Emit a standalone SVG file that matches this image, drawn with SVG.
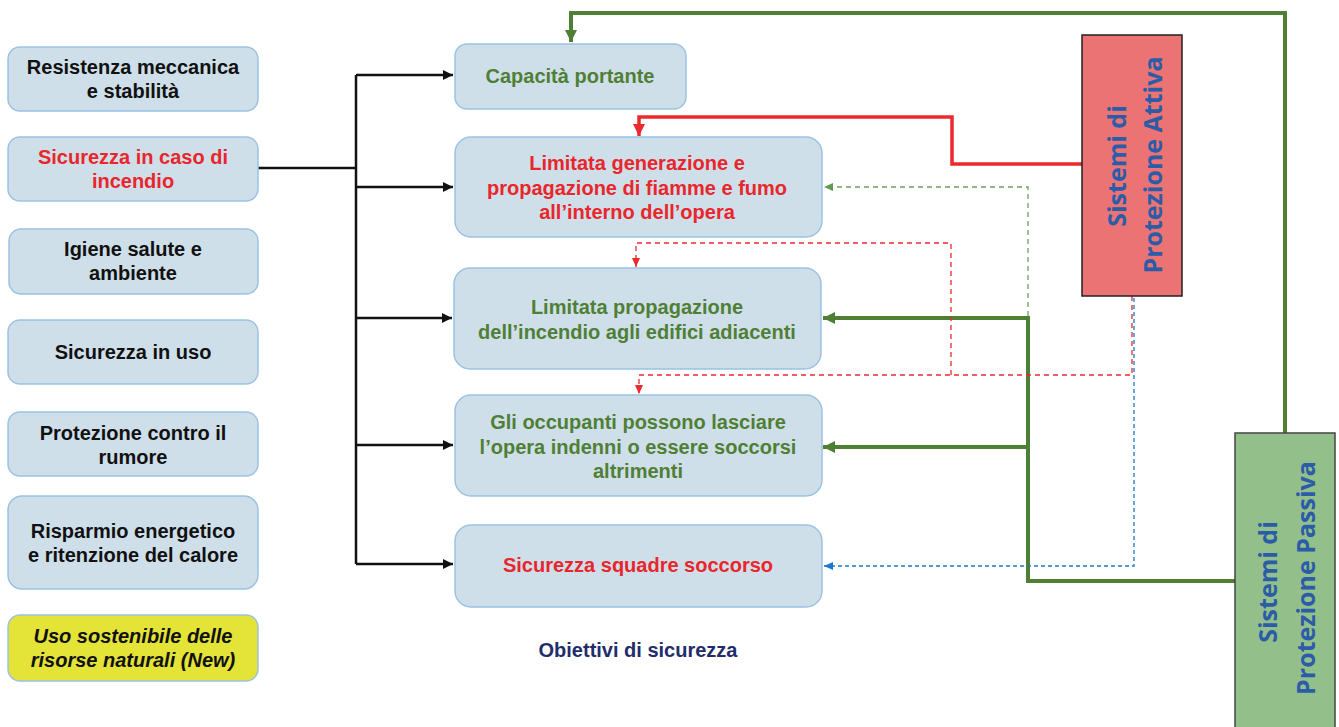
<svg xmlns="http://www.w3.org/2000/svg" width="1339" height="727" viewBox="0 0 1339 727">
<style>
.box{fill:#cfdfea;stroke:#9cc2e3;stroke-width:1.5}
.t{font-family:"Liberation Sans",Arial,sans-serif;font-weight:bold;font-size:20px;text-anchor:middle}
.k{fill:#111}
.r{fill:#e8262b}
.g{fill:#4f7f35}
.v{font-family:"Open Sans","Noto Sans",sans-serif;font-weight:bold;font-size:25px;text-anchor:middle;fill:#2b5ca8}
</style>
<defs>
<marker id="ak" markerUnits="userSpaceOnUse" markerWidth="12" markerHeight="10" refX="10" refY="5" orient="auto"><path d="M0,0 L10,5 L0,10 z" fill="#111"/></marker>
<marker id="ag" markerUnits="userSpaceOnUse" markerWidth="14" markerHeight="12" refX="12" refY="6" orient="auto"><path d="M0,0 L12,6 L0,12 z" fill="#4f7f35"/></marker>
<marker id="ar" markerUnits="userSpaceOnUse" markerWidth="14" markerHeight="12" refX="12" refY="6" orient="auto"><path d="M0,0 L12,6 L0,12 z" fill="#ec2a2e"/></marker>
<marker id="agd" markerUnits="userSpaceOnUse" markerWidth="10" markerHeight="8" refX="9" refY="4" orient="auto"><path d="M0,0 L9,4 L0,8 z" fill="#5f9a50"/></marker>
<marker id="ard" markerUnits="userSpaceOnUse" markerWidth="10" markerHeight="8" refX="9" refY="4" orient="auto"><path d="M0,0 L9,4 L0,8 z" fill="#ec2a2e"/></marker>
<marker id="abd" markerUnits="userSpaceOnUse" markerWidth="10" markerHeight="8" refX="9" refY="4" orient="auto"><path d="M0,0 L9,4 L0,8 z" fill="#1a78cc"/></marker>
</defs>
<rect width="1339" height="727" fill="#fff"/>

<g id="connectors" fill="none">
<g stroke="#111" stroke-width="2.5">
<path d="M258,168 H356"/>
<path d="M356,75 V564"/>
<path d="M356,75 H453" marker-end="url(#ak)"/>
<path d="M356,187 H453" marker-end="url(#ak)"/>
<path d="M356,318 H452" marker-end="url(#ak)"/>
<path d="M356,445 H453" marker-end="url(#ak)"/>
<path d="M356,564 H453" marker-end="url(#ak)"/>
</g>
<g stroke="#4f7f35" stroke-width="4">
<path d="M1285,433 V13 H571 V42" marker-end="url(#ag)"/>
<path d="M1235,581 H1028 V318 H823" marker-end="url(#ag)"/>
<path d="M1028,447 H823" marker-end="url(#ag)"/>
</g>
<path d="M1082,164 H952 V117 H639 V136" stroke="#ec2a2e" stroke-width="3.5" marker-end="url(#ar)"/>
<path d="M1028,316 V187 H824" stroke="#6fa060" stroke-width="1.3" stroke-dasharray="5,4" marker-end="url(#agd)"/>
<g stroke="#ec2a2e" stroke-width="1.3" stroke-dasharray="5,4">
<path d="M1132,296 V375 H639 V394" marker-end="url(#ard)"/>
<path d="M951,375 V243 H636 V267" marker-end="url(#ard)"/>
</g>
<path d="M1134,298 V566 H824" stroke="#1a78cc" stroke-width="1.3" stroke-dasharray="4,3" marker-end="url(#abd)"/>
</g>

<g id="n-resistenza"><rect class="box" x="8" y="47" width="250" height="64" rx="12"/><text class="t k" x="133" y="74">Resistenza meccanica</text><text class="t k" x="133" y="98">e stabilità</text></g>
<g id="n-incendio"><rect class="box" x="8" y="137" width="250" height="64" rx="12"/><text class="t r" x="133" y="164">Sicurezza in caso di</text><text class="t r" x="133" y="188">incendio</text></g>
<g id="n-igiene"><rect class="box" x="9" y="229" width="249" height="65" rx="12"/><text class="t k" x="133" y="256">Igiene salute e</text><text class="t k" x="133" y="280">ambiente</text></g>
<g id="n-uso"><rect class="box" x="8" y="320" width="250" height="64" rx="12"/><text class="t k" x="133" y="359">Sicurezza in uso</text></g>
<g id="n-rumore"><rect class="box" x="8" y="412" width="250" height="64" rx="12"/><text class="t k" x="133" y="440">Protezione contro il</text><text class="t k" x="133" y="464">rumore</text></g>
<g id="n-risparmio"><rect class="box" x="8" y="496" width="250" height="93" rx="14"/><text class="t k" x="133" y="538">Risparmio energetico</text><text class="t k" x="133" y="562">e ritenzione del calore</text></g>
<g id="n-sostenibile"><rect x="8" y="615" width="250" height="66" rx="12" fill="#e3e338" stroke="#9cc2e3" stroke-width="1.5"/><text class="t k" font-style="italic" x="133" y="643">Uso sostenibile delle</text><text class="t k" font-style="italic" x="133" y="667">risorse naturali (New)</text></g>

<g id="n-capacita"><rect class="box" x="455" y="44" width="231" height="65" rx="12"/><text class="t g" x="570" y="83">Capacità portante</text></g>
<g id="n-generazione"><rect class="box" x="455" y="137" width="367" height="100" rx="16"/><text class="t r" x="637" y="170">Limitata generazione e</text><text class="t r" x="637" y="195">propagazione di fiamme e fumo</text><text class="t r" x="637" y="219">all’interno dell’opera</text></g>
<g id="n-adiacenti"><rect class="box" x="454" y="268" width="367" height="101" rx="16"/><text class="t g" x="637" y="314">Limitata propagazione</text><text class="t g" x="637" y="339">dell’incendio agli edifici adiacenti</text></g>
<g id="n-occupanti"><rect class="box" x="455" y="395" width="367" height="101" rx="16"/><text class="t g" x="638" y="429">Gli occupanti possono lasciare</text><text class="t g" x="638" y="454">l’opera indenni o essere soccorsi</text><text class="t g" x="638" y="478">altrimenti</text></g>
<g id="n-squadre"><rect class="box" x="455" y="525" width="367" height="82" rx="16"/><text class="t r" x="638" y="572">Sicurezza squadre soccorso</text></g>
<g id="l-obiettivi"><text class="t" x="638" y="657" fill="#1f2d6b">Obiettivi di sicurezza</text></g>

<g id="n-attiva"><rect x="1082" y="35" width="100" height="261" fill="#ec7373" stroke="#222" stroke-width="1.5"/>
<text class="v" transform="translate(1126,166) rotate(-90)">Sistemi di</text>
<text class="v" transform="translate(1162,165) rotate(-90)">Protezione Attiva</text></g>
<g id="n-passiva"><rect x="1235" y="433" width="100" height="300" fill="#93c08a" stroke="#444" stroke-width="1.5"/>
<text class="v" transform="translate(1277,582) rotate(-90)">Sistemi di</text>
<text class="v" transform="translate(1315,578) rotate(-90)">Protezione Passiva</text></g>
</svg>
